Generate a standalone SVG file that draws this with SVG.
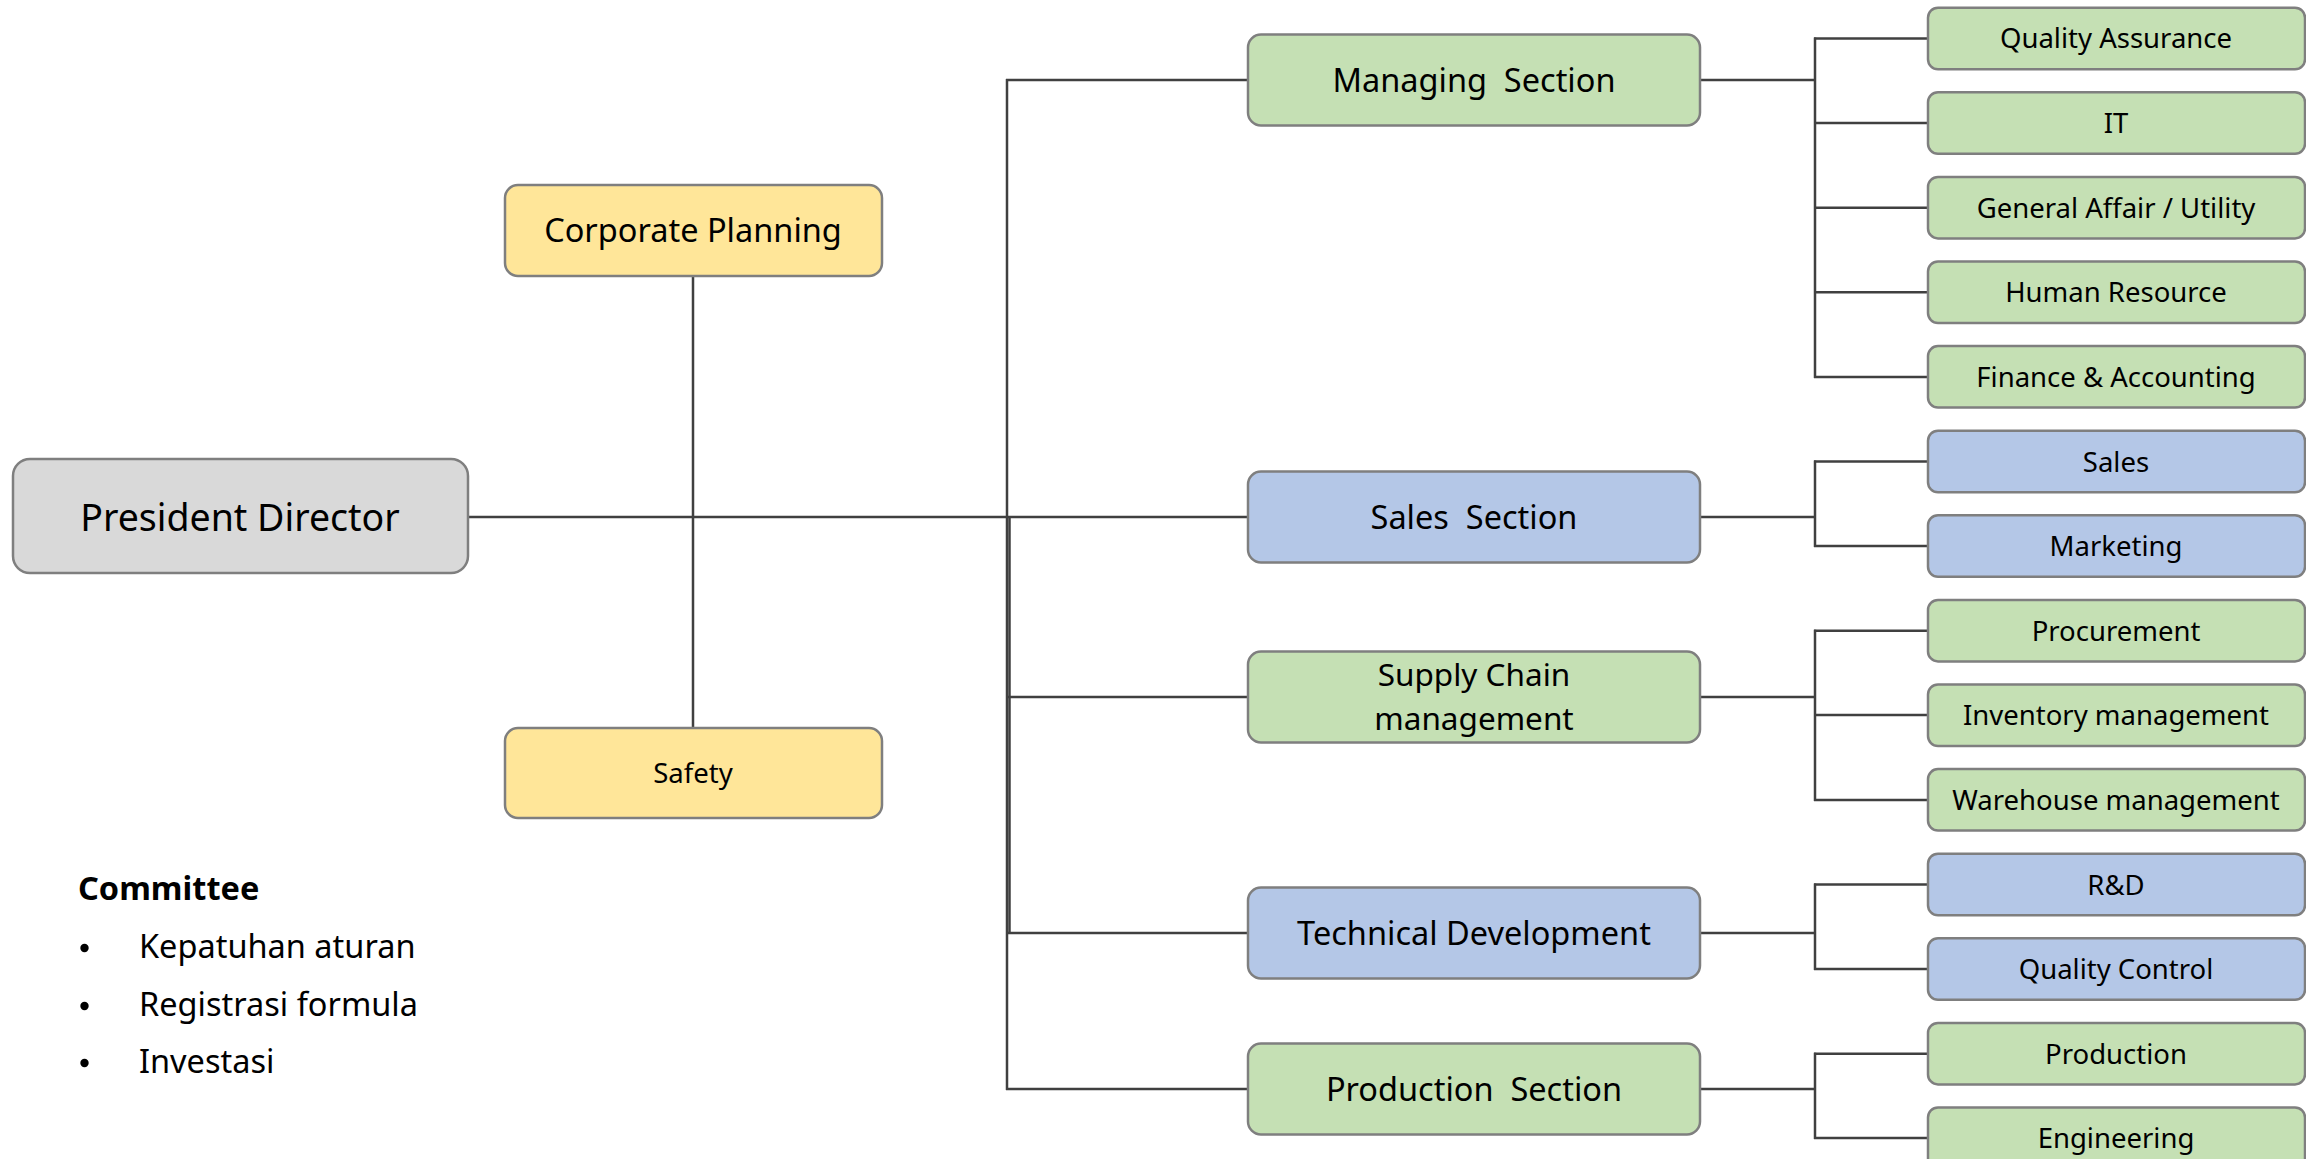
<svg xmlns="http://www.w3.org/2000/svg" width="2306" height="1159" viewBox="0 0 2306 1159">
<style>
  text { font-family: "Noto Sans", "Open Sans", "DejaVu Sans", sans-serif; fill: #000; text-anchor: middle; }
  .box { stroke: #7f7f7f; stroke-width: 2.5; }
  .gray { fill: #d9d9d9; }
  .yel { fill: #ffe699; }
  .grn { fill: #c5e0b4; }
  .blu { fill: #b4c7e7; }
  .t38 { font-size: 37.5px; }
  .t33 { font-size: 32.5px; }
  .t31 { font-size: 31.5px; }
  .t27 { font-size: 27.5px; }
  .conn line { stroke: #404040; stroke-width: 2.5; }
  .note { text-anchor: start; font-size: 32.5px; }
</style>
<rect width="2306" height="1159" fill="#ffffff"/>

<g class="conn" id="connectors">
  <line x1="468" y1="517" x2="1248" y2="517"/>
  <line x1="693" y1="276" x2="693" y2="728"/>
  <line x1="1007" y1="79" x2="1007" y2="1090"/>
  <line x1="1009.5" y1="517" x2="1009.5" y2="933"/>
  <line x1="1006" y1="80" x2="1248" y2="80"/>
  <line x1="1006" y1="697" x2="1248" y2="697"/>
  <line x1="1006" y1="933" x2="1248" y2="933"/>
  <line x1="1006" y1="1089" x2="1248" y2="1089"/>
  <!-- Managing -->
  <line x1="1700" y1="80" x2="1815" y2="80"/>
  <line x1="1815" y1="37.5" x2="1815" y2="378"/>
  <line x1="1814" y1="38.5" x2="1928" y2="38.5"/>
  <line x1="1814" y1="123" x2="1928" y2="123"/>
  <line x1="1814" y1="207.7" x2="1928" y2="207.7"/>
  <line x1="1814" y1="292.3" x2="1928" y2="292.3"/>
  <line x1="1814" y1="377" x2="1928" y2="377"/>
  <!-- Sales -->
  <line x1="1700" y1="517" x2="1815" y2="517"/>
  <line x1="1815" y1="460.5" x2="1815" y2="547"/>
  <line x1="1814" y1="461.5" x2="1928" y2="461.5"/>
  <line x1="1814" y1="546" x2="1928" y2="546"/>
  <!-- Supply chain -->
  <line x1="1700" y1="697" x2="1815" y2="697"/>
  <line x1="1815" y1="629.7" x2="1815" y2="801"/>
  <line x1="1814" y1="630.7" x2="1928" y2="630.7"/>
  <line x1="1814" y1="715" x2="1928" y2="715"/>
  <line x1="1814" y1="800" x2="1928" y2="800"/>
  <!-- Technical -->
  <line x1="1700" y1="933" x2="1815" y2="933"/>
  <line x1="1815" y1="883.5" x2="1815" y2="970"/>
  <line x1="1814" y1="884.5" x2="1928" y2="884.5"/>
  <line x1="1814" y1="969" x2="1928" y2="969"/>
  <!-- Production -->
  <line x1="1700" y1="1089" x2="1815" y2="1089"/>
  <line x1="1815" y1="1052.7" x2="1815" y2="1139"/>
  <line x1="1814" y1="1053.7" x2="1928" y2="1053.7"/>
  <line x1="1814" y1="1138" x2="1928" y2="1138"/>
</g>

<g id="president">
  <rect class="box gray" x="13" y="459" width="455" height="114" rx="17"/>
  <text class="t38" x="240" y="531">President Director</text>
</g>
<g id="corporate-planning">
  <rect class="box yel" x="505" y="185" width="377" height="91" rx="13"/>
  <text class="t33" x="693" y="242">Corporate Planning</text>
</g>
<g id="safety">
  <rect class="box yel" x="505" y="728" width="377" height="90" rx="13"/>
  <text class="t27" x="693" y="783">Safety</text>
</g>

<g id="committee">
  <text class="note" x="78" y="900" font-weight="bold">Committee</text>
  <circle cx="84.5" cy="948" r="4.2" fill="#000"/>
  <text class="note" x="139" y="958">Kepatuhan aturan</text>
  <circle cx="84.5" cy="1006" r="4.2" fill="#000"/>
  <text class="note" x="139" y="1016">Registrasi formula</text>
  <circle cx="84.5" cy="1063" r="4.2" fill="#000"/>
  <text class="note" x="139" y="1073">Investasi</text>
</g>

<g id="managing-section">
  <rect class="box grn" x="1248" y="34.5" width="452" height="91" rx="13"/>
  <text class="t33" x="1474" y="92" xml:space="preserve">Managing  Section</text>
</g>
<g id="sales-section">
  <rect class="box blu" x="1248" y="471.5" width="452" height="91" rx="13"/>
  <text class="t33" x="1474" y="529" xml:space="preserve">Sales  Section</text>
</g>
<g id="supply-chain">
  <rect class="box grn" x="1248" y="651.5" width="452" height="91" rx="13"/>
  <text class="t31" x="1474" y="686">Supply Chain</text>
  <text class="t31" x="1474" y="729.5">management</text>
</g>
<g id="technical-development">
  <rect class="box blu" x="1248" y="887.5" width="452" height="91" rx="13"/>
  <text class="t33" x="1474" y="945">Technical Development</text>
</g>
<g id="production-section">
  <rect class="box grn" x="1248" y="1043.5" width="452" height="91" rx="13"/>
  <text class="t33" x="1474" y="1101" xml:space="preserve">Production  Section</text>
</g>

<g id="quality-assurance">
  <rect class="box grn" x="1928" y="7.7" width="377" height="61.5" rx="10"/>
  <text class="t27" x="2116" y="48">Quality Assurance</text>
</g>
<g id="it">
  <rect class="box grn" x="1928" y="92.3" width="377" height="61.5" rx="10"/>
  <text class="t27" x="2116" y="133">IT</text>
</g>
<g id="general-affair">
  <rect class="box grn" x="1928" y="176.9" width="377" height="61.5" rx="10"/>
  <text class="t27" x="2116" y="217.5">General Affair / Utility</text>
</g>
<g id="human-resource">
  <rect class="box grn" x="1928" y="261.5" width="377" height="61.5" rx="10"/>
  <text class="t27" x="2116" y="302">Human Resource</text>
</g>
<g id="finance-accounting">
  <rect class="box grn" x="1928" y="346.1" width="377" height="61.5" rx="10"/>
  <text class="t27" x="2116" y="387">Finance &amp; Accounting</text>
</g>
<g id="sales">
  <rect class="box blu" x="1928" y="430.7" width="377" height="61.5" rx="10"/>
  <text class="t27" x="2116" y="471.5">Sales</text>
</g>
<g id="marketing">
  <rect class="box blu" x="1928" y="515.3" width="377" height="61.5" rx="10"/>
  <text class="t27" x="2116" y="556">Marketing</text>
</g>
<g id="procurement">
  <rect class="box grn" x="1928" y="599.9" width="377" height="61.5" rx="10"/>
  <text class="t27" x="2116" y="640.5">Procurement</text>
</g>
<g id="inventory-management">
  <rect class="box grn" x="1928" y="684.5" width="377" height="61.5" rx="10"/>
  <text class="t27" x="2116" y="725">Inventory management</text>
</g>
<g id="warehouse-management">
  <rect class="box grn" x="1928" y="769.1" width="377" height="61.5" rx="10"/>
  <text class="t27" x="2116" y="810">Warehouse management</text>
</g>
<g id="rnd">
  <rect class="box blu" x="1928" y="853.7" width="377" height="61.5" rx="10"/>
  <text class="t27" x="2116" y="894.5">R&amp;D</text>
</g>
<g id="quality-control">
  <rect class="box blu" x="1928" y="938.3" width="377" height="61.5" rx="10"/>
  <text class="t27" x="2116" y="979">Quality Control</text>
</g>
<g id="production">
  <rect class="box grn" x="1928" y="1022.9" width="377" height="61.5" rx="10"/>
  <text class="t27" x="2116" y="1063.5">Production</text>
</g>
<g id="engineering">
  <rect class="box grn" x="1928" y="1107.5" width="377" height="61.5" rx="10"/>
  <text class="t27" x="2116" y="1148">Engineering</text>
</g>
</svg>
